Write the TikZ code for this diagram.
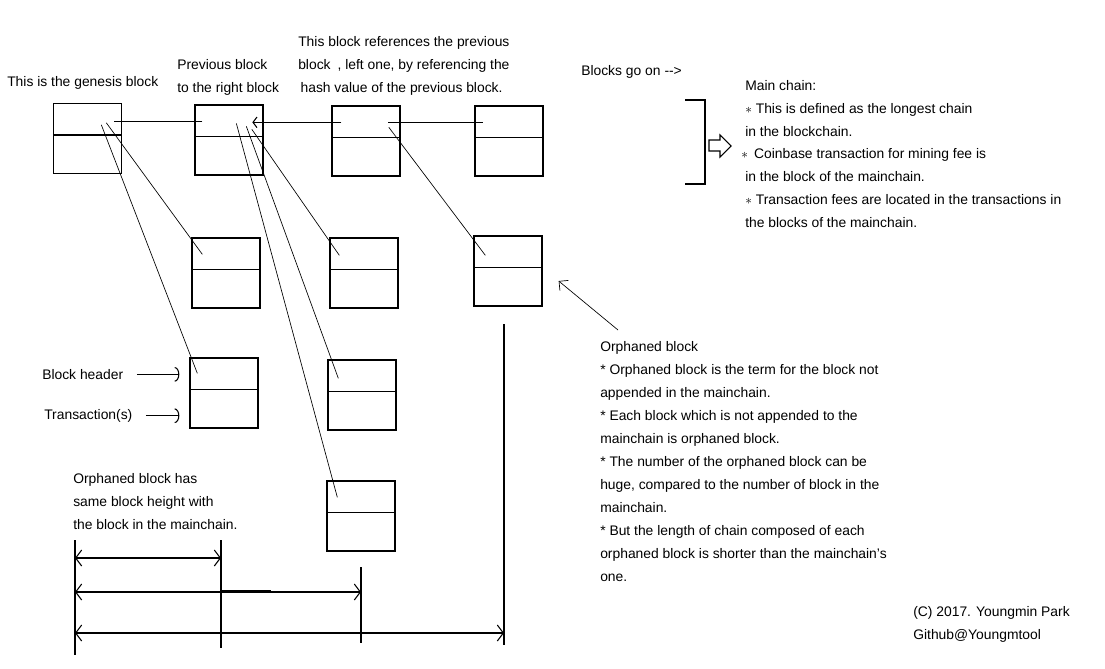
\documentclass[tikz,border=0pt]{standalone}
\usepackage{fontspec}
\setmainfont{Liberation Sans}
\usetikzlibrary{arrows.meta, calc}

\begin{document}
\begin{tikzpicture}[
  x=0.75pt, y=-0.75pt,
  blk/.style={draw, line width=1pt, minimum width=51pt, minimum height=52.5pt, inner sep=0pt},
  txt/.style={font=\fontsize{10.4}{17.25}\selectfont, anchor=north west, align=left, inner sep=0pt},
  lnk/.style={line width=0.8pt},
  ref/.style={line width=0.5pt},
  tip/.style={line width=0.8pt, -{Arc Barb[width=11pt,length=3.5pt]}},
  dim/.style={line width=0.8pt, {Straight Barb[width=12pt,length=4.5pt]}-{Straight Barb[width=12pt,length=4.5pt]}},
]
  \useasboundingbox[fill=white] (0,0) rectangle (1105,668);

  \node[blk] (b1) at (87.5,138.5) {};
  \node[blk] (b2) at (229,140) {};
  \node[blk] (b3) at (366,141) {};
  \node[blk] (b4) at (509,141) {};
  \node[blk] (o1) at (226,273) {};
  \node[blk] (o2) at (364,273) {};
  \node[blk] (o3) at (508,271) {};
  \node[blk] (o4) at (224,393) {};
  \node[blk] (o5) at (362,395) {};
  \node[blk] (o6) at (361,516) {};
  \foreach \b in {b1,b2,b3,b4,o1,o2,o3,o4,o5,o6}
    \draw[line width=1pt] ($(\b.north west)!0.45!(\b.south west)$) -- ($(\b.north east)!0.45!(\b.south east)$);

  \draw[lnk] ([shift={(8,17)}]b2.north west) -- ([shift={(61,18.5)}]b1.north west);
  \draw[lnk, -{Straight Barb[width=8pt,length=3pt]}] ([shift={(10,17)}]b3.north west) -- ([shift={(58,18)}]b2.north west);
  \draw[lnk] ([shift={(8.5,17)}]b4.north west) -- ([shift={(57,17)}]b3.north west);

  \draw[ref] ([shift={(53.5,20)}]b1.north west) -- ([shift={(11,17)}]o1.north west);
  \draw[ref] ([shift={(48.5,22)}]b1.north west) -- ([shift={(8,16)}]o4.north west);
  \draw[ref] ([shift={(57.5,25)}]b2.north west) -- ([shift={(10,18)}]o2.north west);
  \draw[ref] ([shift={(52,22)}]b2.north west) -- ([shift={(11,19)}]o5.north west);
  \draw[ref] ([shift={(42,19)}]b2.north west) -- ([shift={(11,17)}]o6.north west);
  \draw[ref] ([shift={(57.5,22)}]b3.north west) -- ([shift={(12,20)}]o3.north west);

  \node[txt] (gen) at (7,76) {This is the genesis block};
  \node[txt] (prev) at (177,59) {Previous block\\to the right block};
  \node[txt] (hash) at (298,36) {This block references the previous\\block\enspace, left one, by referencing the\\\,hash value of the previous block.};
  \node[txt] (goon) at (581,65) {Blocks go on {-}{-}>};
  \node[txt] (main) at (745,80) {Main chain:\\$\ast$ This is defined as the longest chain\\in the blockchain.\\[-0.3pt]\hspace{-3pt}$\ast$\ \,Coinbase transaction for mining fee is\\in the block of the mainchain.\\$\ast$ Transaction fees are located in the transactions in\\the blocks of the mainchain.};
  \node[txt] (orph) at (600,341) {Orphaned block\\* Orphaned block is the term for the block not\\appended in the mainchain.\\* Each block which is not appended to the\\mainchain is orphaned block.\\* The number of the orphaned block can be\\huge, compared to the number of block in the\\mainchain.\\* But the length of chain composed of each\\orphaned block is shorter than the mainchain's\\one.};
  \node[txt] (same) at (73,473) {Orphaned block has\\same block height with\\the block in the mainchain.};
  \node[txt] (hdr) at (42,369) {Block header};
  \node[txt] (trx) at (44,409) {Transaction(s)};
  \node[txt] (copy) at (913,606) {(C) 2017. Youngmin Park\\Github@Youngmtool};

  \draw[tip] ([xshift=10pt]hdr.east) -- ([xshift=-7.5pt]o4.west |- hdr.east);
  \draw[tip] ([xshift=10pt]trx.east) -- ([xshift=-7.5pt]o4.west |- trx.east);
  \draw[ref, -{Straight Barb[length=5pt,width=10pt]}] ([shift={(18,-11)}]orph.north west) -- ([shift={(16,10)}]o3.east);

  \draw[lnk] (685,100) -- (705,100) -- (705,184) -- (685,184);
  \draw[lnk] (709,140) -- (720,140) -- (720,135) -- (731,146) -- (720,157) -- (720,151) -- (709,151) -- cycle;

  \coordinate (v0) at (75,540);
  \coordinate (v1) at (221,540);
  \coordinate (v2) at (361,567);
  \coordinate (v3) at (504,324);
  \draw[lnk] (v0) -- ++(0,115);
  \draw[lnk] (v1) -- ++(0,108);
  \draw[lnk] (v2) -- ++(0,76);
  \draw[lnk] (v3) -- ++(0,321);
  \draw[dim] (v0 |- 0,558) -- (v1 |- 0,558);
  \draw[dim] (v0 |- 0,592) -- (v2 |- 0,592);
  \draw[dim] (v0 |- 0,633) -- (v3 |- 0,633);
  \draw[line width=1.6pt] (v1 |- 0,591) -- ++(50,0);
\end{tikzpicture}
\end{document}
